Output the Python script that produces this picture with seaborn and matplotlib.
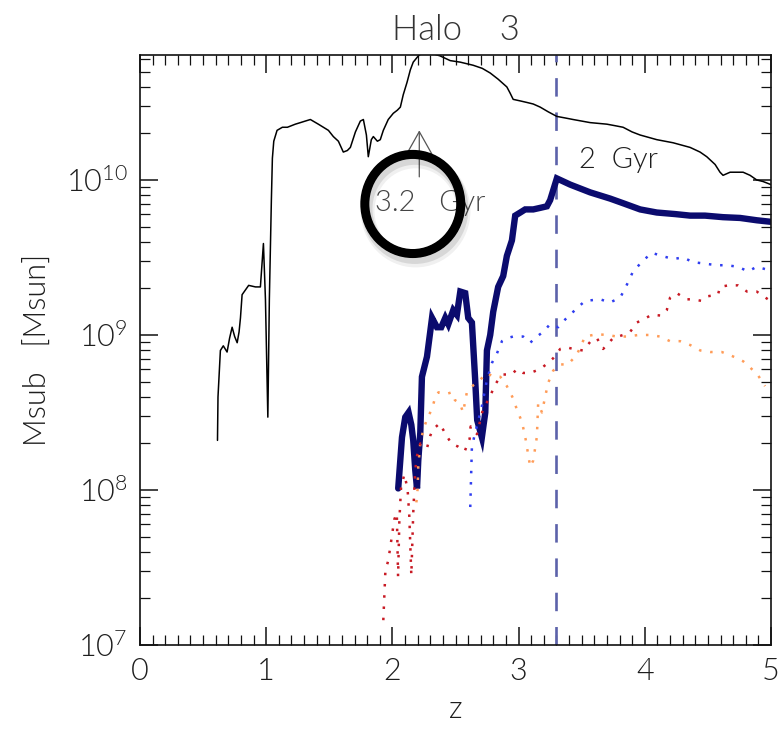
import numpy as np
import pandas as pd
import matplotlib
matplotlib.use("Agg")
import matplotlib.pyplot as plt
import matplotlib.patheffects as pe
from matplotlib.patches import Ellipse
from matplotlib.ticker import MultipleLocator, LogLocator, FuncFormatter, NullFormatter
import seaborn as sns

# ---- data: redshift z and log10 of subhalo mass [Msun] ----
z_total = [0.614, 0.618, 0.637, 0.660, 0.690, 0.710, 0.730, 0.750, 0.770, 0.785,
           0.796, 0.809, 0.835, 0.861, 0.915, 0.954, 0.966, 0.978, 0.994, 1.013,
           1.025, 1.041, 1.049, 1.060, 1.086, 1.128, 1.168, 1.231, 1.271, 1.310,
           1.350, 1.413, 1.453, 1.493, 1.532, 1.572, 1.611, 1.643, 1.667, 1.707,
           1.746, 1.770, 1.794, 1.809, 1.833, 1.849, 1.881, 1.904, 1.928, 1.967,
           2.007, 2.039, 2.063, 2.086, 2.116, 2.142, 2.165, 2.205, 2.237, 2.300,
           2.379, 2.458, 2.538, 2.640, 2.712, 2.775, 2.838, 2.907, 2.933, 2.957,
           3.013, 3.066, 3.116, 3.171, 3.234, 3.303, 3.369, 3.432, 3.567, 3.699,
           3.765, 3.828, 3.899, 3.963, 4.095, 4.224, 4.359, 4.438, 4.491, 4.557,
           4.596, 4.620, 4.676, 4.731, 4.779, 4.834, 4.887, 4.937, 5.0]
logm_total = [8.32, 8.60, 8.90, 8.93, 8.89, 8.98, 9.05, 8.99, 8.95, 9.02,
              9.11, 9.26, 9.29, 9.32, 9.31, 9.31, 9.45, 9.59, 9.23, 8.47,
              9.23, 9.87, 10.14, 10.25, 10.32, 10.34, 10.34, 10.36, 10.37, 10.38,
              10.39, 10.36, 10.34, 10.32, 10.28, 10.25, 10.18, 10.19, 10.21, 10.31,
              10.38, 10.39, 10.29, 10.15, 10.26, 10.28, 10.25, 10.26, 10.32, 10.39,
              10.43, 10.45, 10.47, 10.55, 10.63, 10.71, 10.76, 10.80, 10.82, 10.82,
              10.80, 10.77, 10.76, 10.74, 10.72, 10.69, 10.65, 10.60, 10.56, 10.52,
              10.51, 10.50, 10.49, 10.47, 10.44, 10.41, 10.40, 10.39, 10.37, 10.36,
              10.35, 10.34, 10.31, 10.29, 10.26, 10.24, 10.21, 10.18, 10.15, 10.10,
              10.05, 10.03, 10.05, 10.05, 10.05, 10.03, 10.00, 9.99, 9.97]

z_main = [2.046, 2.076, 2.102, 2.128, 2.150, 2.165, 2.181, 2.195, 2.205, 2.221,
          2.234, 2.274, 2.314, 2.353, 2.387, 2.419, 2.443, 2.482, 2.511, 2.538,
          2.577, 2.601, 2.630, 2.656, 2.672, 2.709, 2.736, 2.749, 2.775, 2.799,
          2.838, 2.878, 2.907, 2.947, 2.973, 3.013, 3.052, 3.116, 3.171, 3.224,
          3.250, 3.303, 3.409, 3.567, 3.646, 3.725, 3.828, 3.963, 4.095, 4.240,
          4.359, 4.477, 4.620, 4.755, 4.887, 5.0]
logm_main = [8.01, 8.34, 8.47, 8.50, 8.42, 8.32, 8.13, 8.01, 8.19, 8.37,
             8.73, 8.86, 9.11, 9.05, 9.05, 9.11, 9.07, 9.16, 9.13, 9.28,
             9.27, 9.11, 9.08, 8.71, 8.45, 8.34, 8.50, 8.90, 9.00, 9.15,
             9.31, 9.38, 9.51, 9.61, 9.77, 9.79, 9.81, 9.81, 9.82, 9.83,
             9.87, 10.01, 9.97, 9.92, 9.90, 9.88, 9.85, 9.81, 9.79, 9.78,
             9.77, 9.77, 9.76, 9.755, 9.74, 9.73]

z_blue = [2.617, 2.630, 2.656, 2.709, 2.749, 2.789, 2.828, 2.868, 2.910, 2.957,
          3.036, 3.092, 3.145, 3.195, 3.250, 3.314, 3.369, 3.472, 3.527, 3.646,
          3.725, 3.804, 3.844, 3.907, 3.987, 4.055, 4.135, 4.224, 4.303, 4.382,
          4.477, 4.570, 4.649, 4.739, 4.818, 4.887, 4.976, 5.0]
logm_blue = [7.89, 8.28, 8.37, 8.54, 8.71, 8.82, 8.88, 8.96, 8.98, 8.99,
             8.99, 8.95, 8.99, 9.02, 9.07, 9.05, 9.10, 9.18, 9.22, 9.23,
             9.21, 9.24, 9.30, 9.41, 9.48, 9.53, 9.51, 9.49, 9.50, 9.47,
             9.46, 9.45, 9.45, 9.44, 9.41, 9.44, 9.42, 9.41]

z_red = [1.928, 1.944, 1.968, 1.983, 2.015, 2.035, 2.045, 2.055, 2.068, 2.094,
         2.120, 2.134, 2.150, 2.165, 2.181, 2.195, 2.221, 2.274, 2.300, 2.320,
         2.375, 2.415, 2.467, 2.520, 2.573, 2.612, 2.620, 2.670, 2.720, 2.760,
         2.815, 2.838, 2.878, 2.947, 2.986, 3.036, 3.092, 3.171, 3.234, 3.274,
         3.330, 3.382, 3.432, 3.510, 3.567, 3.620, 3.670, 3.749, 3.828, 3.884,
         3.936, 3.987, 4.055, 4.135, 4.174, 4.200, 4.253, 4.332, 4.382, 4.450,
         4.500, 4.580, 4.596, 4.660, 4.739, 4.810, 4.887, 4.976, 5.0]
logm_red = [7.16, 7.47, 7.55, 7.63, 7.81, 7.85, 7.44, 7.80, 8.01, 8.10,
            8.01, 7.83, 7.45, 7.85, 8.13, 8.22, 8.30, 8.27, 8.35, 8.39,
            8.43, 8.37, 8.30, 8.28, 8.25, 8.33, 8.41, 8.36, 8.53, 8.58,
            8.68, 8.71, 8.745, 8.745, 8.78, 8.755, 8.755, 8.78, 8.82, 8.85,
            8.91, 8.92, 8.91, 8.90, 8.955, 8.98, 8.91, 8.98, 9.00, 9.02,
            9.08, 9.10, 9.13, 9.125, 9.16, 9.24, 9.27, 9.23, 9.23, 9.22,
            9.25, 9.26, 9.31, 9.32, 9.32, 9.28, 9.28, 9.23, 9.21]

z_orange = [2.190, 2.200, 2.205, 2.221, 2.245, 2.280, 2.313, 2.340, 2.365, 2.430,
            2.470, 2.495, 2.535, 2.560, 2.590, 2.640, 2.670, 2.749, 2.800, 2.855,
            2.907, 2.957, 2.986, 3.026, 3.052, 3.092, 3.116, 3.145, 3.155, 3.185,
            3.210, 3.234, 3.274, 3.330, 3.390, 3.460, 3.527, 3.620, 3.700, 3.780,
            3.860, 3.950, 4.040, 4.120, 4.200, 4.280, 4.360, 4.440, 4.520, 4.610,
            4.690, 4.780, 4.835, 4.897, 4.953]
logm_orange = [7.92, 8.01, 8.15, 8.30, 8.39, 8.47, 8.52, 8.60, 8.63, 8.62,
               8.63, 8.58, 8.56, 8.50, 8.63, 8.675, 8.69, 8.755, 8.73, 8.73,
               8.67, 8.59, 8.52, 8.44, 8.345, 8.15, 8.19, 8.345, 8.56, 8.50,
               8.60, 8.69, 8.77, 8.81, 8.81, 8.87, 8.99, 9.005, 9.00, 8.99,
               8.99, 9.00, 9.00, 8.99, 8.96, 8.96, 8.935, 8.90, 8.89, 8.89,
               8.865, 8.83, 8.79, 8.74, 8.67]

z_infall = 3.3                      # dashed marker
z_arrow = 2.213                     # 3.2 Gyr marker
x_ticks = [0, 1, 2, 3, 4, 5]
y_ticks = [1e7, 1e8, 1e9, 1e10]

# ---- style ----
sns.set_theme(style="ticks")
plt.rcParams["font.family"] = ["Lato", "DejaVu Sans"]
plt.rcParams["font.weight"] = 300
plt.rcParams["axes.titleweight"] = 300
plt.rcParams["axes.labelweight"] = 300
plt.rcParams["mathtext.fontset"] = "custom"
plt.rcParams["mathtext.rm"] = "Lato:weight=300"
plt.rcParams["mathtext.it"] = "Lato:weight=300"
plt.rcParams["mathtext.bf"] = "Lato:weight=300"
plt.rcParams["mathtext.default"] = "regular"

TXT = "#1e1e1e"
fig = plt.figure(figsize=(7.82, 7.32), dpi=100)
ax = fig.add_axes([140 / 782, 87 / 732, 631 / 782, 590 / 732])
ax.set_yscale("log")


def series(z, logm):
    return pd.DataFrame({"z": z, "Msub": np.power(10.0, logm)})


dotted = (0, (1, 3.5))
sns.lineplot(data=series(z_total, logm_total), x="z", y="Msub", ax=ax,
             color="black", lw=1.1, sort=False, estimator=None)
sns.lineplot(data=series(z_main, logm_main), x="z", y="Msub", ax=ax,
             color="#0b0b6e", lw=4.6, sort=False, estimator=None,
             solid_joinstyle="miter")
sns.lineplot(data=series(z_blue, logm_blue), x="z", y="Msub", ax=ax,
             color="#2f3df0", lw=1.8, linestyle=dotted, sort=False, estimator=None)
sns.lineplot(data=series(z_orange, logm_orange), x="z", y="Msub", ax=ax,
             color="#ff9c58", lw=1.8, linestyle=dotted, sort=False, estimator=None)
sns.lineplot(data=series(z_red, logm_red), x="z", y="Msub", ax=ax,
             color="#c81a24", lw=1.8, linestyle=dotted, sort=False, estimator=None)

ax.axvline(z_infall, color="#5c62aa", lw=1.9, dashes=(7, 6), zorder=1)

# ---- axes ----
ax.set_xlim(0, 5)
ax.set_ylim(1e7, 6.4e10)
ax.set_xticks(x_ticks)
ax.xaxis.set_minor_locator(MultipleLocator(0.1))
ax.set_yticks(y_ticks)
ax.yaxis.set_minor_locator(LogLocator(base=10, subs=np.arange(2, 10)))
ax.yaxis.set_minor_formatter(NullFormatter())
ax.yaxis.set_major_formatter(FuncFormatter(lambda v, p: r"$10^{%d}$" % round(np.log10(v))))
ax.tick_params(which="both", direction="in", top=True, right=True,
               color="#111111", labelsize=22, labelcolor=TXT)
ax.tick_params(which="major", length=13, width=1.1, pad=9)
ax.tick_params(which="minor", length=7, width=0.9)
for s in ax.spines.values():
    s.set_color("#111111")
    s.set_linewidth(1.2)

ax.set_xlabel("z", fontsize=22, color=TXT, labelpad=6)
ax.set_ylabel("Msub   [Msun]", fontsize=22, color=TXT, labelpad=10)
ax.set_title("Halo    3", fontsize=25, color="#333333", pad=11)

# ---- annotations ----
ax.text(3.48, 10 ** 10.13, "2  Gyr", fontsize=21, color=TXT, ha="left", va="center")
ax.text(1.86, 10 ** 9.852, "3.2   Gyr", fontsize=21, color="#444444", ha="left", va="center")
ax.annotate("", xy=(z_arrow, 10 ** 10.32), xytext=(z_arrow, 10 ** 10.02),
            arrowprops=dict(arrowstyle="->,head_length=0.8,head_width=0.45",
                            mutation_scale=20, color="#555555", lw=0.9,
                            shrinkA=0, shrinkB=0))

ring = Ellipse((0.4323, 0.7475), 0.152, 0.168, transform=ax.transAxes,
               fill=False, ec="black", lw=5.5, zorder=6)
ring.set_path_effects([
    pe.Stroke(linewidth=10, foreground=(0, 0, 0, 0.06), offset=(2, -5)),
    pe.Stroke(linewidth=8, foreground=(0, 0, 0, 0.10), offset=(1.5, -3.5)),
    pe.Stroke(linewidth=6.5, foreground="black"),
    pe.Normal(),
])
ax.add_patch(ring)

fig.savefig("out.png", dpi=100)
